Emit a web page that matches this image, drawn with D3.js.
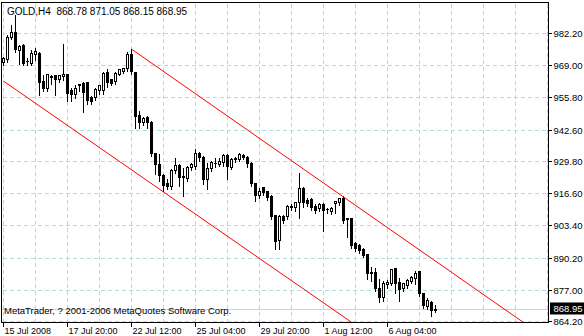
<!DOCTYPE html>
<html>
<head>
<meta charset="utf-8">
<script src="https://cdn.jsdelivr.net/npm/d3@7"></script>
<style>
body { margin: 0; background: #fff; }
svg { display: block; font-family: "Liberation Sans", Arial, sans-serif; }
</style>
</head>
<body>
<div id="chart"></div>
<script>
const symbol = "GOLD,H4";
const lastQuote = [868.78, 871.05, 868.15, 868.95];
const copyright = "MetaTrader, ? 2001-2006 MetaQuotes Software Corp.";

// H4 bars, 15 Jul 2008 -> 7 Aug 2008
const opens = [970.5, 971.7, 980.7, 982.7, 975.4, 977.4, 970.9, 970.1, 973.8, 974.2,
    962.7, 959.5, 964.2, 964.8, 963.5, 964.4, 965.6, 958.7, 957.4, 961.5,
    961.9, 962.3, 955.8, 955.8, 958.7, 958.7, 966.4, 963.5, 962.7, 965.6,
    966.8, 968.0, 973.75, 966.4, 948.4, 945.6, 947.6, 945.6, 932.9, 928.4,
    923.9, 920.7, 919.5, 926.0, 928.0, 923.5, 922.7, 927.2, 927.6, 932.9,
    931.3, 922.3, 926.8, 928.8, 928.4, 929.3, 932.1, 927.2, 930.5, 930.5,
    932.1, 931.3, 928.8, 920.7, 915.8, 919.0, 917.4, 915.4, 907.6, 897.4,
    907.2, 907.2, 911.1, 910.9, 912.9, 918.6, 913.7, 914.1, 911.3, 910.5,
    912.1, 910.0, 909.2, 912.5, 912.9, 914.6, 906.0, 906.4, 896.2, 895.4,
    893.7, 891.7, 884.1, 884.3, 877.8, 874.1, 879.4, 879.8, 886.0, 880.3,
    877.8, 879.0, 880.7, 881.9, 884.7, 875.8, 870.4, 872.1, 868.78];
const highs = [972.9, 981.9, 986.0, 990.1, 977.8, 978.2, 972.5, 975.8, 976.5, 975.0,
    965.2, 966.0, 965.6, 965.6, 965.6, 978.2, 966.0, 959.9, 961.5, 961.9,
    962.7, 962.7, 956.6, 959.9, 961.5, 966.8, 968.0, 963.9, 966.8, 968.0,
    968.4, 975.0, 976.0, 966.8, 950.5, 948.0, 948.4, 946.4, 933.3, 932.9,
    924.8, 922.7, 926.8, 931.3, 928.8, 927.2, 928.0, 929.3, 935.0, 933.7,
    932.1, 929.3, 930.1, 931.3, 931.3, 932.9, 932.9, 931.3, 931.7, 933.3,
    932.9, 932.1, 929.7, 921.1, 919.0, 919.5, 917.8, 916.2, 908.0, 908.0,
    908.0, 912.1, 912.5, 913.3, 925.2, 919.5, 915.0, 915.0, 912.5, 912.9,
    912.9, 910.9, 911.3, 913.7, 915.0, 915.8, 906.8, 906.8, 897.0, 896.2,
    894.6, 892.1, 886.8, 886.4, 881.9, 881.1, 881.5, 886.0, 886.4, 882.3,
    880.3, 881.9, 883.1, 885.2, 885.2, 875.9, 874.1, 872.9, 871.05];
const lows = [969.3, 970.9, 980.3, 975.0, 970.1, 969.7, 969.3, 969.7, 971.7, 957.4,
    958.7, 958.7, 961.9, 957.4, 962.7, 963.5, 954.6, 954.6, 955.8, 958.7,
    950.1, 953.7, 953.7, 955.0, 957.8, 957.8, 960.3, 961.1, 961.9, 965.2,
    966.4, 967.2, 966.0, 943.5, 943.5, 944.8, 943.5, 932.1, 924.8, 921.9,
    917.8, 918.6, 918.6, 925.2, 919.9, 915.8, 921.9, 926.4, 926.8, 930.1,
    920.7, 918.6, 926.0, 927.6, 928.0, 928.0, 922.7, 926.8, 929.7, 930.1,
    930.9, 927.6, 919.9, 913.7, 915.0, 916.2, 914.1, 906.4, 894.1, 894.1,
    904.7, 906.4, 910.0, 909.6, 906.8, 911.3, 911.7, 910.0, 908.8, 909.6,
    901.5, 908.8, 908.4, 908.8, 912.1, 904.7, 899.0, 894.6, 893.3, 892.5,
    890.9, 881.9, 881.1, 877.0, 872.5, 872.9, 878.2, 879.4, 876.2, 872.9,
    877.0, 878.2, 880.3, 879.8, 875.0, 870.0, 869.6, 866.8, 868.15];
const closes = [972.1, 980.7, 982.7, 975.8, 977.0, 970.1, 970.7, 974.2, 975.0, 962.3,
    959.5, 965.6, 964.6, 963.5, 964.8, 965.2, 957.8, 957.4, 959.5, 960.7,
    958.2, 954.6, 954.2, 959.1, 960.7, 966.0, 962.3, 961.9, 966.0, 967.6,
    968.0, 973.75, 966.8, 948.0, 945.6, 947.2, 945.6, 932.9, 928.4, 923.9,
    919.9, 919.5, 926.0, 928.0, 923.1, 923.1, 927.2, 928.4, 932.9, 931.3,
    922.3, 926.8, 929.3, 929.0, 929.7, 932.1, 927.6, 930.5, 930.9, 932.5,
    931.3, 928.8, 920.7, 915.8, 917.4, 917.0, 915.0, 907.2, 897.0, 907.2,
    905.6, 911.3, 911.4, 912.9, 918.6, 912.9, 912.5, 910.9, 909.6, 912.1,
    909.6, 910.2, 910.5, 913.3, 914.6, 905.6, 906.2, 895.4, 894.1, 893.3,
    891.3, 883.9, 883.8, 877.8, 874.1, 879.8, 880.3, 885.6, 879.8, 877.4,
    879.8, 881.1, 882.3, 883.9, 875.8, 870.9, 872.9, 868.8, 868.95];

const timeLabels = ["15 Jul 2008", "17 Jul 20:00", "22 Jul 12:00", "25 Jul 04:00",
    "29 Jul 20:00", "1 Aug 12:00", "6 Aug 04:00"];
const timeLabelBars = [0, 16, 32, 48, 64, 80, 96];
const priceTicks = [864.20, 877.00, 890.20, 903.40, 916.60, 929.80, 942.60, 955.80, 969.00, 982.20];

// trend channel, [bar, price] end points
const upperChannel = [[32, 975.8], [130, 863.8]];
const lowerChannel = [[0, 962.7], [87, 863.9]];

const width = 584,
    height = 336;
const plot = { left: 1.5, top: 2.5, right: 548.5, bottom: 322.5 };
const gridColor = "#acdfdf";

const svg = d3.select("#chart").append("svg")
    .attr("width", width)
    .attr("height", height);

const x = d3.scaleLinear()
    .domain([0, 136])
    .range([3.5, 547.5]);

const y = d3.scaleLinear()
    .domain([864.2, 982.2])
    .range([321.5, 33.5]);

function py(v) { return Math.floor(y(v)) + 0.5; }

const bars = opens.map(function(o, i) {
    return { i: i, o: o, h: highs[i], l: lows[i], c: closes[i] };
});

svg.append("defs").append("clipPath")
    .attr("id", "plotClip")
    .append("rect")
    .attr("x", plot.left + 0.5)
    .attr("y", plot.top + 0.5)
    .attr("width", plot.right - plot.left - 1)
    .attr("height", plot.bottom - plot.top - 1);

///////////////////////////////////////////////////////////////////////////
//////////////////////////////// Grid /////////////////////////////////////
///////////////////////////////////////////////////////////////////////////

const grid = svg.append("g")
    .attr("shape-rendering", "crispEdges")
    .attr("stroke", gridColor)
    .attr("stroke-dasharray", "4,3");

grid.selectAll(".hgrid")
    .data(priceTicks)
    .enter().append("line")
    .attr("class", "hgrid")
    .attr("x1", plot.left + 1).attr("x2", plot.right - 1)
    .attr("y1", function(d) { return py(d); })
    .attr("y2", function(d) { return py(d); });

grid.selectAll(".vgrid")
    .data(d3.range(0, 137, 8))
    .enter().append("line")
    .attr("class", "vgrid")
    .attr("x1", function(d) { return x(d); })
    .attr("x2", function(d) { return x(d); })
    .attr("y1", plot.top + 1).attr("y2", plot.bottom - 1);

// current price line
svg.append("line")
    .attr("shape-rendering", "crispEdges")
    .attr("stroke", gridColor)
    .attr("x1", plot.left).attr("x2", plot.right)
    .attr("y1", py(lastQuote[3])).attr("y2", py(lastQuote[3]));

///////////////////////////////////////////////////////////////////////////
/////////////////////////////// Candles ///////////////////////////////////
///////////////////////////////////////////////////////////////////////////

const candle = svg.append("g")
    .attr("shape-rendering", "crispEdges")
    .selectAll(".candle")
    .data(bars)
    .enter().append("g")
    .attr("class", "candle");

candle.append("line")
    .attr("stroke", "#000")
    .attr("x1", function(d) { return x(d.i); })
    .attr("x2", function(d) { return x(d.i); })
    .attr("y1", function(d) { return py(d.h); })
    .attr("y2", function(d) { return py(d.l) + 1; });

candle.each(function(d) {
    const g = d3.select(this);
    const top = Math.floor(y(Math.max(d.o, d.c)));
    const bot = Math.floor(y(Math.min(d.o, d.c)));
    if (bot - top < 1) {
        g.append("line")
            .attr("stroke", "#000")
            .attr("x1", x(d.i) - 1.5).attr("x2", x(d.i) + 1.5)
            .attr("y1", top + 0.5).attr("y2", top + 0.5);
    } else {
        g.append("rect")
            .attr("x", x(d.i) - 1)
            .attr("y", top + 0.5)
            .attr("width", 2)
            .attr("height", bot - top)
            .attr("stroke", "#000")
            .attr("fill", d.c >= d.o ? "#fff" : "#000");
    }
});

///////////////////////////////////////////////////////////////////////////
/////////////////////////////// Channel ///////////////////////////////////
///////////////////////////////////////////////////////////////////////////

const line = d3.line()
    .x(function(d) { return x(d[0]); })
    .y(function(d) { return y(d[1]); });

svg.append("g")
    .attr("clip-path", "url(#plotClip)")
    .selectAll(".channel")
    .data([upperChannel, lowerChannel])
    .enter().append("path")
    .attr("class", "channel")
    .attr("d", line)
    .attr("fill", "none")
    .attr("stroke", "#ff0000")
    .attr("stroke-width", 1);

///////////////////////////////////////////////////////////////////////////
//////////////////////////////// Axes /////////////////////////////////////
///////////////////////////////////////////////////////////////////////////

svg.append("rect")
    .attr("shape-rendering", "crispEdges")
    .attr("x", plot.left).attr("y", plot.top)
    .attr("width", plot.right - plot.left)
    .attr("height", plot.bottom - plot.top)
    .attr("fill", "none")
    .attr("stroke", "#000");

const yAxis = svg.append("g");
yAxis.selectAll("line")
    .data(priceTicks)
    .enter().append("line")
    .attr("shape-rendering", "crispEdges")
    .attr("stroke", "#000")
    .attr("x1", plot.right).attr("x2", plot.right + 3.5)
    .attr("y1", function(d) { return py(d); })
    .attr("y2", function(d) { return py(d); });
yAxis.selectAll("text")
    .data(priceTicks)
    .enter().append("text")
    .attr("x", plot.right + 5)
    .attr("y", function(d) { return py(d); })
    .attr("dy", "0.35em")
    .style("font-size", "9.5px")
    .text(function(d) { return d.toFixed(2); });

// last price marker
const lastY = py(lastQuote[3]);
svg.append("rect")
    .attr("x", plot.right + 1.5).attr("y", lastY - 7)
    .attr("width", width - plot.right - 1.5).attr("height", 12)
    .attr("fill", "#000");
svg.append("text")
    .attr("x", plot.right + 5)
    .attr("y", lastY - 1)
    .attr("dy", "0.35em")
    .attr("fill", "#fff")
    .style("font-size", "9.5px")
    .text(lastQuote[3].toFixed(2));

const xAxis = svg.append("g");
xAxis.selectAll("line")
    .data(timeLabelBars)
    .enter().append("line")
    .attr("shape-rendering", "crispEdges")
    .attr("stroke", "#000")
    .attr("x1", function(d) { return x(d); })
    .attr("x2", function(d) { return x(d); })
    .attr("y1", plot.bottom).attr("y2", plot.bottom + 4);
xAxis.selectAll("text")
    .data(timeLabelBars)
    .enter().append("text")
    .attr("x", function(d) { return x(d) + 1; })
    .attr("y", 334)
    .style("font-size", "9px")
    .text(function(d, i) { return timeLabels[i]; });

///////////////////////////////////////////////////////////////////////////
//////////////////////////////// Texts ////////////////////////////////////
///////////////////////////////////////////////////////////////////////////

svg.append("text")
    .attr("x", 7).attr("y", 15)
    .style("font-size", "10px")
    .attr("xml:space", "preserve")
    .text(symbol + "  " + lastQuote.map(function(d) { return d.toFixed(2); }).join(" "));

svg.append("text")
    .attr("x", 4).attr("y", 314)
    .style("font-size", "9.5px")
    .text(copyright);
</script>
</body>
</html>
